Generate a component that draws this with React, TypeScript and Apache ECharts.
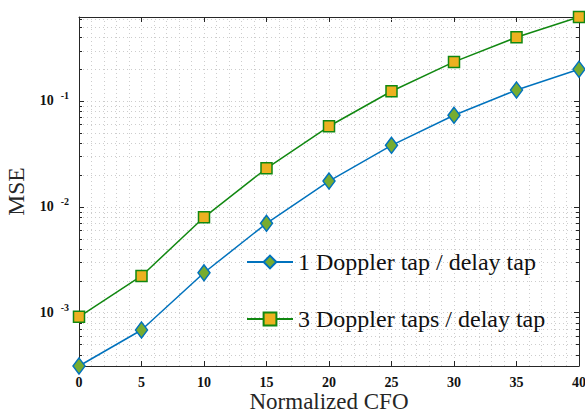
import React, { useEffect, useRef } from "react";
import * as echarts from "echarts";

// Normalized CFO values (x axis)
const cfo = [0, 5, 10, 15, 20, 25, 30, 35, 40];
// MSE, 1 Doppler tap / delay tap
const mse1Doppler = [3.13e-4, 6.85e-4, 2.38e-3, 6.98e-3, 0.0175, 0.0381, 0.0733, 0.127, 0.1995];
// MSE, 3 Doppler taps / delay tap
const mse3Doppler = [9.14e-4, 2.22e-3, 7.96e-3, 0.0231, 0.0577, 0.1236, 0.234, 0.4, 0.622];
const seriesNames = ["1 Doppler tap / delay tap", "3 Doppler taps / delay tap"];
// minor log ticks (2..9 x 10^k) inside the visible range
const yMinorTicks = [
  4e-4, 5e-4, 6e-4, 7e-4, 8e-4, 9e-4,
  2e-3, 3e-3, 4e-3, 5e-3, 6e-3, 7e-3, 8e-3, 9e-3,
  2e-2, 3e-2, 4e-2, 5e-2, 6e-2, 7e-2, 8e-2, 9e-2,
  2e-1, 3e-1, 4e-1, 5e-1, 6e-1,
];
const xTickInterval = 5;

const SERIF = "Liberation Serif";
const AXIS = "#262626";
const GRID = "#cdcdcd";

export default function App() {
  const ref = useRef<HTMLDivElement>(null);
  useEffect(() => {
    if (!ref.current) return;
    const chart = echarts.init(ref.current, undefined, { renderer: "svg" });
    const all = mse1Doppler.concat(mse3Doppler);
    const yMin = Math.min(...all);
    const yMax = Math.max(...all);
    const xMin = cfo[0];
    const xMax = cfo[cfo.length - 1];

    const yLabel = (v: number) => {
      const e = Math.log10(v);
      if (Math.abs(e - Math.round(e)) > 1e-6) return "";
      return `{b|10}{s|${Math.round(e)}}`;
    };

    chart.setOption({
      animation: false,
      grid: { left: 79, right: 6, top: 17, bottom: 49, outerBoundsMode: "none", containLabel: false },
      legend: {
        data: seriesNames,
        orient: "vertical",
        left: 246,
        top: 249,
        padding: 0,
        itemWidth: 46,
        itemHeight: 16,
        itemGap: 31,
        textStyle: { fontFamily: SERIF, fontSize: 24, color: "#111", lineHeight: 26 },
      },
      xAxis: [
        {
          type: "value",
          min: xMin,
          max: xMax,
          interval: xTickInterval,
          name: "Normalized CFO",
          nameLocation: "middle",
          nameGap: 24,
          nameMoveOverlap: false,
          nameTextStyle: { fontFamily: SERIF, fontSize: 23, color: AXIS, lineHeight: 22, verticalAlign: "top" },
          axisLine: { show: true, onZero: false, lineStyle: { color: AXIS, width: 1 } },
          axisTick: { show: true, inside: true, length: 5, lineStyle: { color: AXIS } },
          minorTick: { show: true, splitNumber: 5, length: 0 },
          axisLabel: { fontFamily: SERIF, fontWeight: "bold", fontSize: 14, color: "#111", margin: 9 },
          splitLine: { show: true, lineStyle: { color: GRID, type: [1, 3], width: 1 } },
          minorSplitLine: { show: true, lineStyle: { color: GRID, type: [1, 3], width: 1 } },
        },
        {
          type: "value",
          position: "top",
          min: xMin,
          max: xMax,
          interval: xTickInterval,
          axisLine: { show: true, onZero: false, lineStyle: { color: AXIS, width: 1 } },
          axisTick: { show: true, inside: true, length: 5, lineStyle: { color: AXIS } },
          axisLabel: { show: false },
          splitLine: { show: false },
        },
      ],
      yAxis: [
        {
          type: "log",
          logBase: 10,
          min: yMin,
          max: yMax,
          name: "MSE",
          nameLocation: "middle",
          nameGap: 51,
          nameMoveOverlap: false,
          nameRotate: 90,
          nameTextStyle: { fontFamily: SERIF, fontSize: 23.5, color: AXIS },
          axisLine: { show: true, onZero: false, lineStyle: { color: AXIS, width: 1 } },
          axisTick: { show: true, inside: true, length: 5, lineStyle: { color: AXIS } },
          axisLabel: {
            formatter: yLabel,
            margin: 10,
            rich: {
              b: { fontFamily: SERIF, fontWeight: "bold", fontSize: 14, color: "#111", lineHeight: 20 },
              s: {
                fontFamily: SERIF,
                fontWeight: "bold",
                fontSize: 10,
                color: "#111",
                lineHeight: 12,
                verticalAlign: "top",
                padding: [0, 0, 0, 7],
              },
            },
          },
          splitLine: { show: true, lineStyle: { color: GRID, type: [1, 3], width: 1 } },
        },
        {
          type: "log",
          logBase: 10,
          position: "right",
          min: yMin,
          max: yMax,
          axisLine: { show: true, onZero: false, lineStyle: { color: AXIS, width: 1 } },
          axisTick: { show: true, inside: true, length: 5, lineStyle: { color: AXIS } },
          axisLabel: { show: false },
          splitLine: { show: false },
        },
      ],
      series: [
        {
          type: "custom",
          silent: true,
          z: 1,
          xAxisIndex: 0,
          yAxisIndex: 0,
          data: yMinorTicks.map((v) => [xMin, v]),
          encode: { x: 0, y: 1 },
          renderItem: (params: any, api: any) => {
            const p = api.coord([xMin, api.value(1)]);
            const cs = params.coordSys;
            const y = Math.round(p[1]) + 0.5;
            return {
              type: "group",
              children: [
                {
                  type: "line",
                  shape: { x1: cs.x, y1: y, x2: cs.x + cs.width, y2: y },
                  style: { stroke: GRID, lineWidth: 1, lineDash: [1, 3] },
                },
                {
                  type: "line",
                  shape: { x1: cs.x, y1: y, x2: cs.x + 3, y2: y },
                  style: { stroke: AXIS, lineWidth: 1 },
                },
                {
                  type: "line",
                  shape: { x1: cs.x + cs.width - 3, y1: y, x2: cs.x + cs.width, y2: y },
                  style: { stroke: AXIS, lineWidth: 1 },
                },
              ],
            };
          },
        },
        {
          name: seriesNames[0],
          type: "line",
          z: 3,
          clip: false,
          data: cfo.map((x, i) => [x, mse1Doppler[i]]),
          symbol: "diamond",
          symbolSize: [12, 16],
          itemStyle: { color: "#77AC30", borderColor: "#0072BD", borderWidth: 1.5 },
          lineStyle: { color: "#0072BD", width: 1.5 },
        },
        {
          name: seriesNames[1],
          type: "line",
          z: 3,
          clip: false,
          data: cfo.map((x, i) => [x, mse3Doppler[i]]),
          symbol: "rect",
          symbolSize: 11,
          itemStyle: { color: "#EDB120", borderColor: "#118811", borderWidth: 1.5 },
          lineStyle: { color: "#118811", width: 1.5 },
        },
      ],
    });
    return () => chart.dispose();
  }, []);
  return (
    <div
      ref={ref}
      style={{ position: "fixed", left: 0, top: 0, width: 585, height: 415, background: "#fff" }}
    />
  );
}
